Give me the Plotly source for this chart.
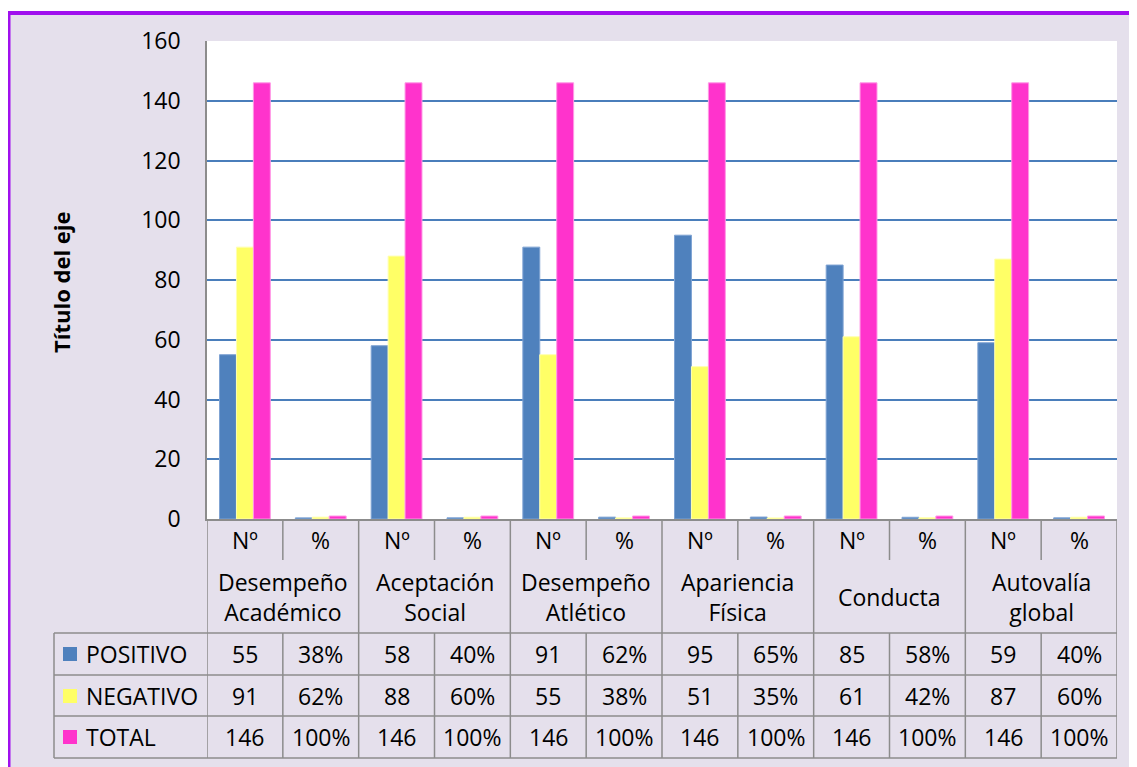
import plotly.graph_objects as go

groups = ["Desempeño<br>Académico", "Aceptación<br>Social", "Desempeño<br>Atlético",
          "Apariencia<br>Física", "Conducta", "Autovalía<br>global"]
sub_labels = ["Nº", "%"]
series_names = ["POSITIVO", "NEGATIVO", "TOTAL"]
series_colors = ["#4F81BD", "#FFFF66", "#FF33CC"]
edge_colors = ["#7FA3D3", "#FFFFB0", "#FF99E6"]

positivo_n = [55, 58, 91, 95, 85, 59]
negativo_n = [91, 88, 55, 51, 61, 87]
total_n = [146, 146, 146, 146, 146, 146]
positivo_pct = [38, 40, 62, 65, 58, 40]
negativo_pct = [62, 60, 38, 35, 42, 60]
total_pct = [100, 100, 100, 100, 100, 100]

FONT = "Open Sans"
OFF = 8  # page body margin
W, H = 1137 - OFF, 767 - OFF
L, R, T, B = 207, 1117, 41, 519
GRID = "#4A7EBB"
LINE = "#8C8C8C"
BG = "#E5E0EC"
PURPLE = "#A010EE"


def px_x(x):
    return (x - L) / (R - L)


def px_y(y):
    return (B - y) / (B - T)


def interleave(n_vals, pct_vals):
    out = []
    for n, p in zip(n_vals, pct_vals):
        out += [n, p / 100]
    return out


def cell_text(n_vals, pct_vals):
    out = []
    for n, p in zip(n_vals, pct_vals):
        out += [str(n), f"{p}%"]
    return out


x_pos = list(range(len(groups) * 2))
rows = [
    (positivo_n, positivo_pct),
    (negativo_n, negativo_pct),
    (total_n, total_pct),
]

fig = go.Figure()
for name, color, edge, (nv, pv) in zip(series_names, series_colors, edge_colors, rows):
    fig.add_trace(go.Bar(
        x=x_pos, y=interleave(nv, pv), name=name,
        marker=dict(color=color, line=dict(width=1, color=edge)),
        showlegend=False,
    ))

shapes = []
annotations = []

# background frame
shapes.append(dict(type="rect", xref="paper", yref="paper",
                    x0=px_x(-20), x1=px_x(1200), y0=px_y(-20), y1=px_y(11),
                    fillcolor="white", line=dict(width=0), layer="below"))
shapes.append(dict(type="rect", xref="paper", yref="paper",
                    x0=px_x(-20), x1=px_x(6.5), y0=px_y(-20), y1=px_y(800),
                    fillcolor="white", line=dict(width=0), layer="below"))
shapes.append(dict(type="rect", xref="paper", yref="paper",
                    x0=px_x(8.5), x1=px_x(1200), y0=px_y(800), y1=px_y(13),
                    fillcolor="rgba(0,0,0,0)", line=dict(color=PURPLE, width=4)))

# table grid
row_tops = [633, 675, 716, 758]
for y in row_tops:
    shapes.append(dict(type="line", xref="paper", yref="paper",
                        x0=px_x(54), x1=1, y0=px_y(y), y1=px_y(y),
                        line=dict(color=LINE, width=1.5)))
shapes.append(dict(type="line", xref="paper", yref="paper",
                    x0=px_x(54), x1=px_x(54), y0=px_y(633), y1=px_y(758),
                    line=dict(color=LINE, width=1.5)))
n_cols = len(x_pos)
for i in range(n_cols + 1):
    xb = i - 0.5
    if i % 2 == 0:
        shapes.append(dict(type="line", xref="x", yref="paper",
                            x0=xb, x1=xb, y0=0, y1=px_y(758),
                            line=dict(color=LINE, width=1.5)))
    else:
        shapes.append(dict(type="line", xref="x", yref="paper",
                            x0=xb, x1=xb, y0=0, y1=px_y(560),
                            line=dict(color=LINE, width=1.5)))
        shapes.append(dict(type="line", xref="x", yref="paper",
                            x0=xb, x1=xb, y0=px_y(633), y1=px_y(758),
                            line=dict(color=LINE, width=1.5)))

txt = dict(family=FONT, size=23, color="black")
mid = dict(showarrow=False, xanchor="center", yanchor="middle", font=txt)
for i in x_pos:
    annotations.append(dict(x=i, y=px_y(540), xref="x", yref="paper",
                            text=sub_labels[i % 2], **mid))
for g, label in enumerate(groups):
    annotations.append(dict(x=2 * g + 0.5, y=px_y(597), xref="x", yref="paper",
                            text=label, **mid))

row_centers = [654, 696, 737]
for (nv, pv), name, color, yc in zip(rows, series_names, series_colors, row_centers):
    shapes.append(dict(type="rect", xref="paper", yref="paper",
                        x0=px_x(63), x1=px_x(77), y0=px_y(yc - 7), y1=px_y(yc + 7),
                        fillcolor=color, line=dict(width=0)))
    annotations.append(dict(x=px_x(84), y=px_y(yc), xref="paper", yref="paper",
                            text=name, showarrow=False, xanchor="left",
                            yanchor="middle", font=txt))
    for i, t in zip(x_pos, cell_text(nv, pv)):
        annotations.append(dict(x=i, y=px_y(yc), xref="x", yref="paper",
                                text=t, **mid))

annotations.append(dict(x=px_x(61), y=px_y(282), xref="paper", yref="paper",
                        text="<b>Título del eje</b>", textangle=-90, showarrow=False,
                        xanchor="center", yanchor="middle",
                        font=dict(family=FONT, size=22, color="black")))

fig.update_layout(
    width=W, height=H,
    margin=dict(l=L - OFF, r=W - (R - OFF), t=T - OFF, b=H - (B - OFF)),
    paper_bgcolor=BG, plot_bgcolor="white",
    barmode="group", bargap=0.33, bargroupgap=0,
    shapes=shapes, annotations=annotations,
    font=dict(family=FONT, color="black"),
)
fig.update_xaxes(range=[-0.5, n_cols - 0.5], showticklabels=False, showgrid=False,
                 zeroline=False, showline=True, linecolor=LINE, linewidth=1.5)
fig.update_yaxes(range=[0, 160], dtick=20, showgrid=True, gridcolor=GRID, gridwidth=1.5,
                 zeroline=False, showline=True, linecolor=LINE, linewidth=1.5,
                 tickfont=dict(family=FONT, size=23, color="black"),
                 ticklabelstandoff=20)

fig.write_html("out.html")
